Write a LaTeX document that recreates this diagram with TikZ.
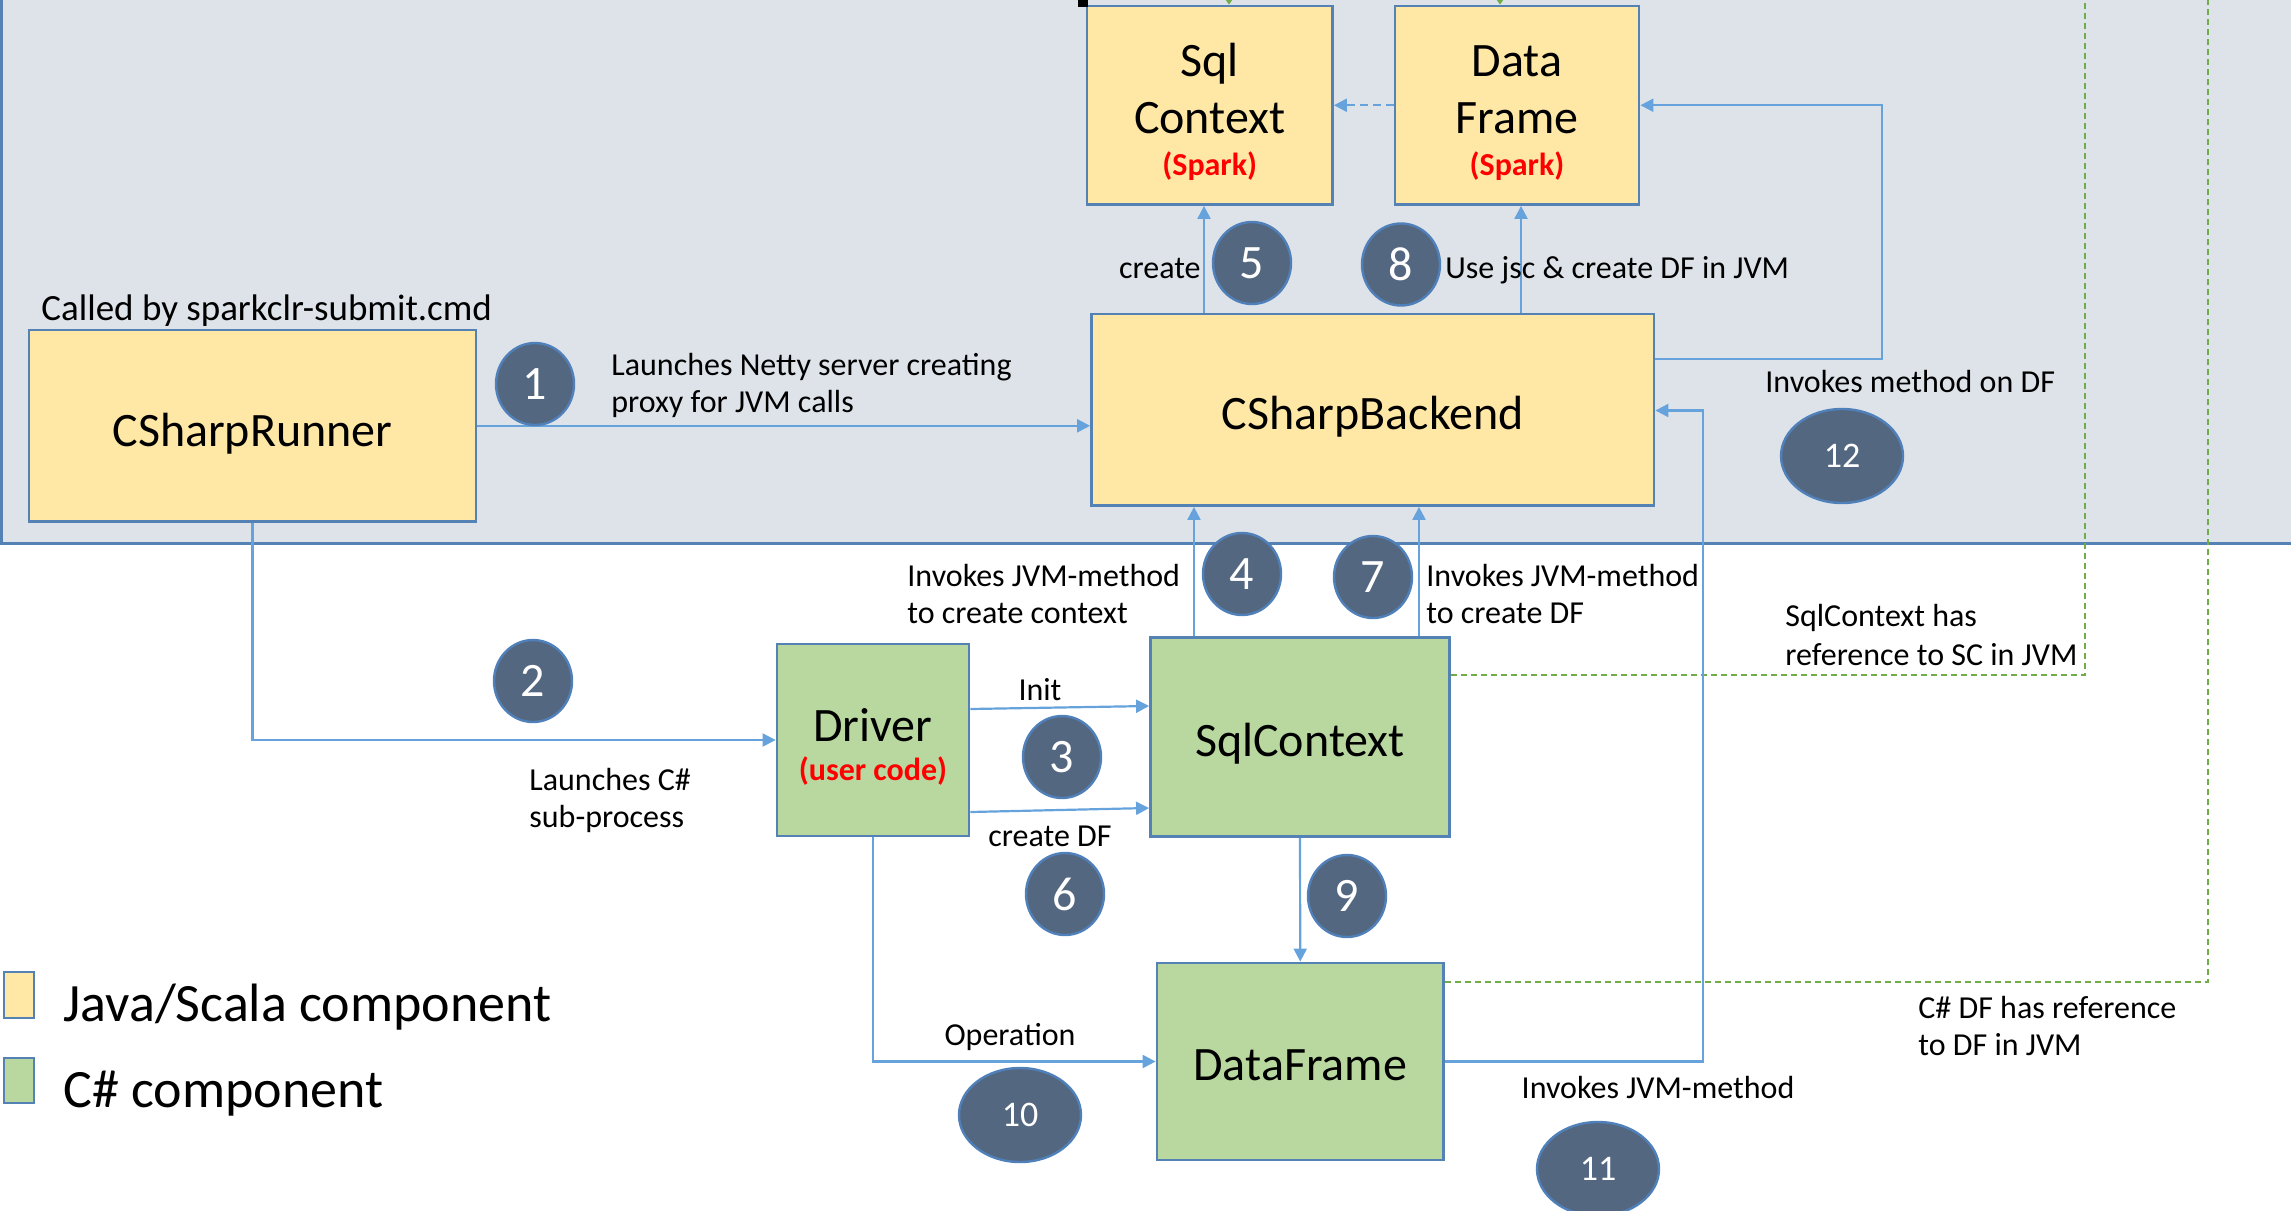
\documentclass[tikz,border=0pt]{standalone}
\usepackage{fontspec}
\setmainfont{Carlito}
\usetikzlibrary{shapes.geometric,arrows.meta}

\definecolor{panelbg}{RGB}{222,227,234}
\definecolor{panelline}{RGB}{84,130,181}
\definecolor{boxline}{RGB}{84,130,181}
\definecolor{javafill}{RGB}{255,232,166}
\definecolor{csfill}{RGB}{184,216,160}
\definecolor{stepfill}{RGB}{84,103,128}
\definecolor{stepline}{RGB}{80,128,186}
\definecolor{flow}{RGB}{102,163,220}
\definecolor{refline}{RGB}{112,173,71}
\definecolor{sparkred}{RGB}{255,0,0}

\tikzset{
  comp/.style={draw=boxline, line width=1.4pt, inner sep=0pt},
  javacomp/.style={comp, fill=javafill},
  cscomp/.style={comp, fill=csfill},
  title/.style={inner sep=0pt, anchor=base, font=\fontsize{24}{28}\selectfont},
  tag/.style={inner sep=0pt, anchor=base, text=sparkred, font=\fontsize{16}{19}\selectfont\bfseries},
  note/.style={inner sep=0pt, anchor=base west, font=\fontsize{16}{19}\selectfont},
  stepnum/.style={ellipse, draw=stepline, line width=1.2pt, fill=stepfill, text=white,
    inner sep=0pt, minimum width=39pt, minimum height=41pt, font=\fontsize{24}{24}\selectfont},
  stepwide/.style={stepnum, minimum width=61pt, minimum height=47pt, font=\fontsize{18}{18}\selectfont},
  flowarrow/.style={draw=flow, line width=1.1pt, -{Triangle[length=6.5pt,width=6.5pt]}},
  refarrow/.style={draw=refline, line width=0.8pt, dash pattern=on 3pt off 2pt,
    -{Triangle[length=3pt,width=4pt]}},
}

\begin{document}
\begin{tikzpicture}[x=0.5pt,y=-0.5pt]
\useasboundingbox (0,0) rectangle (2291,1210);
\clip (0,0) rectangle (2291,1210);

% JVM side panel
\fill[panelbg] (0,-80) rectangle (2400,543.5);
\draw[panelline, line width=1.2pt] (1.5,-80) -- (1.5,543.5) -- (2400,543.5);

% Java/Scala components
\node[javacomp, minimum width=122.75pt, minimum height=99.25pt] (sqls) at (1209.75,105.25) {};
\node[javacomp, minimum width=122pt, minimum height=99.25pt] (dfs) at (1517,105.25) {};
\node[javacomp, minimum width=281.25pt, minimum height=95.75pt] (backend) at (1372.75,409.75) {};
\node[javacomp, minimum width=223.5pt, minimum height=95.8pt] (runner) at (252.5,425.8) {};

% C# components
\node[cscomp, minimum width=96pt, minimum height=96pt] (driver) at (873,740) {};
\node[cscomp, minimum width=149.5pt, minimum height=99.5pt] (sqlc) at (1300,737) {};
\node[cscomp, minimum width=143.25pt, minimum height=98.5pt] (df) at (1300.25,1061.5) {};

% component titles
\node[title] (sqlsA) at (1209.75,76) {Sql};
\node[title] (sqlsB) at (1209.75,133) {Context};
\node[tag] (sqlsC) at (1209.75,175) {(Spark)};
\node[title] (dfsA) at (1517,76) {Data};
\node[title] (dfsB) at (1517,133) {Frame};
\node[tag] (dfsC) at (1517,175) {(Spark)};
\node[title] (backendT) at (1372.75,429) {CSharpBackend};
\node[title] (runnerT) at (252.5,446) {CSharpRunner};
\node[title] (driverA) at (873,741) {Driver};
\node[tag] (driverB) at (873,780) {(user code)};
\node[title] (sqlcT) at (1300,756) {SqlContext};
\node[title] (dfT) at (1300.25,1080) {DataFrame};

% reference links to JVM objects
\draw[refarrow] (sqlc.east |- 0,675) -- (2085,675) -- (2085,-60) -- (1229,-60) -- (sqls.north -| 1229,0);
\draw[refarrow] (df.east |- 0,982) -- (2208,982) -- (2208,-30) -- (1500,-30) -- (dfs.north -| 1500,0);
\fill[black] (1078,0) rectangle (1088,6.5);

% calls
\draw[flowarrow] (runner.east) -- (runner.east -| backend.west);
\draw[flowarrow] (runner.south) -- (runner.south |- driver.west) -- (driver.west);
\draw[flowarrow] (driver.east |- 0,709) -- (sqlc.west |- 0,706);
\draw[flowarrow] (driver.east |- 0,812) -- (sqlc.west |- 0,808);
\draw[flowarrow] (sqlc.north -| 1194,0) -- (backend.south -| 1194,0);
\draw[flowarrow] (sqlc.north -| 1419,0) -- (backend.south -| 1419,0);
\draw[flowarrow] (backend.north -| 1204,0) -- (sqls.south -| 1204,0);
\draw[flowarrow] (backend.north -| 1521,0) -- (dfs.south -| 1521,0);
\draw[flowarrow, dash pattern=on 4pt off 2.5pt] (dfs.west) -- (sqls.east);
\draw[flowarrow] (backend.east |- 0,359) -- (1882,359) -- (1882,105.25) -- (dfs.east);
\draw[flowarrow] (sqlc.south) -- (df.north);
\draw[flowarrow] (driver.south) -- (driver.south |- df.west) -- (df.west);
\draw[flowarrow] (df.east) -- (df.east -| 1703,0) -- (1703,410.5) -- (backend.east |- 0,410.5);

% labels
\node[note, font=\fontsize{18.5}{22}\selectfont] (called) at (41,320) {Called by sparkclr-submit.cmd};
\node[note] (netA) at (611,375) {Launches Netty server creating};
\node[note] (netB) at (611,412) {proxy for JVM calls};
\node[note, anchor=base east] (mkctx) at (1201,278) {create};
\node[note] (usejsc) at (1445,278) {Use jsc \& create DF in JVM};
\node[note] (invdf) at (1765,392) {Invokes method on DF};
\node[note] (subA) at (529,790) {Launches C\#};
\node[note] (subB) at (529,827) {sub-process};
\node[note] (ctxA) at (907,586) {Invokes JVM-method};
\node[note] (ctxB) at (907,623) {to create context};
\node[note] (dfA) at (1426,586) {Invokes JVM-method};
\node[note] (dfB) at (1426,623) {to create DF};
\node[note, anchor=base] (init) at (1040,700) {Init};
\node[note, anchor=base] (mkdf) at (1050,846) {create DF};
\node[note] (screfA) at (1785,626.5) {SqlContext has};
\node[note] (screfB) at (1785,665) {reference to SC in JVM};
\node[note] (dfrefA) at (1918,1018.5) {C\# DF has reference};
\node[note] (dfrefB) at (1918,1055.6) {to DF in JVM};
\node[note, anchor=base] (oper) at (1010,1045) {Operation};
\node[note, anchor=base] (invjvm) at (1658,1098) {Invokes JVM-method};

% step numbers
\node[stepnum] (s1) at (535,384) {1};
\node[stepnum] (s2) at (533,681) {2};
\node[stepnum] (s3) at (1062,757) {3};
\node[stepnum] (s4) at (1242,574) {4};
\node[stepnum] (s5) at (1252,263) {5};
\node[stepnum] (s6) at (1065,894) {6};
\node[stepnum] (s7) at (1373,577) {7};
\node[stepnum] (s8) at (1401,264.5) {8};
\node[stepnum] (s9) at (1347,896) {9};
\node[stepwide] (s10) at (1020,1115) {10};
\node[stepwide] (s11) at (1598,1169) {11};
\node[stepwide] (s12) at (1842,456) {12};

% legend
\node[javacomp, minimum width=15pt, minimum height=23pt] (keyjava) at (19,995) {};
\node[cscomp, minimum width=15pt, minimum height=22.5pt] (keycs) at (19,1080.5) {};
\node[note, font=\fontsize{27}{32}\selectfont] (keyjavaT) at (63,1021) {Java/Scala component};
\node[note, font=\fontsize{27}{32}\selectfont] (keycsT) at (63,1107) {C\# component};
\end{tikzpicture}
\end{document}
